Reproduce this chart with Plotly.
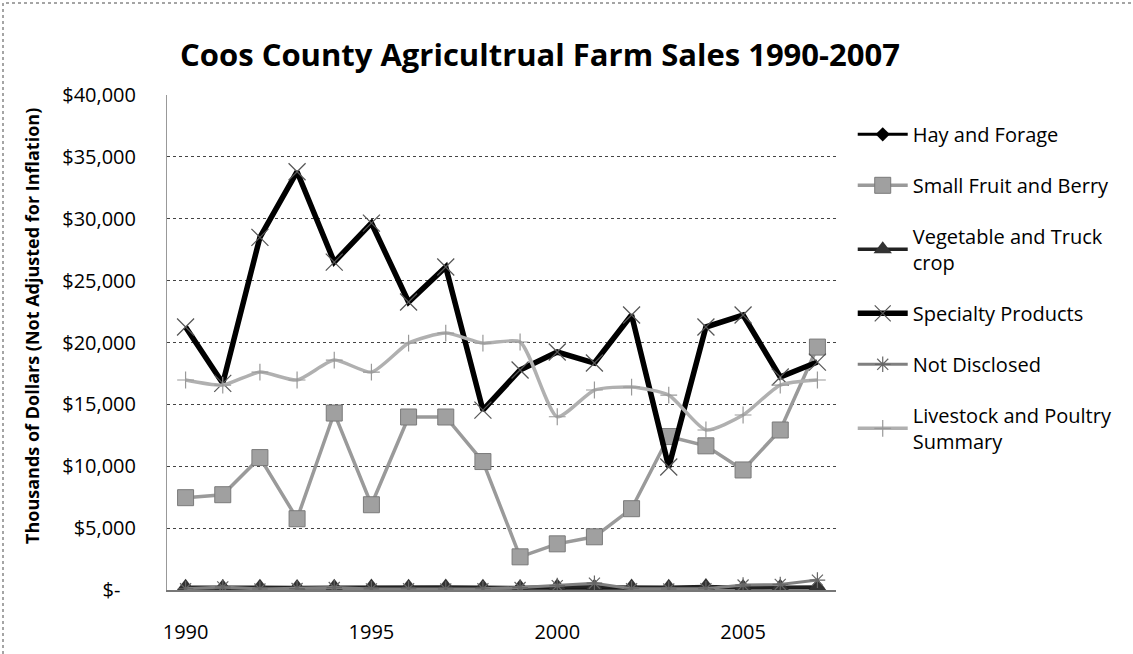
import plotly.graph_objects as go

years = list(range(1990, 2008))

hay_forage = [150, 180, 150, 160, 170, 150, 160, 170, 160, 150, 170, 160, 150, 160, 170, 150, 160, 170]
small_fruit = [7460, 7700, 10700, 5760, 14300, 6890, 13980, 13980, 10380, 2680, 3730, 4300, 6570, 12400, 11650, 9700, 12930, 19630]
vegetable = [220, 200, 230, 210, 220, 240, 230, 250, 220, 200, 260, 230, 240, 220, 280, 200, 220, 240]
specialty = [21250, 16700, 28500, 33800, 26500, 29650, 23270, 26100, 14540, 17780, 19230, 18340, 22220, 9940, 21250, 22220, 17210, 18420]
not_disclosed = [100, 250, 80, 120, 200, 90, 100, 80, 100, 200, 350, 550, 100, 80, 100, 400, 450, 800]
livestock = [16970, 16560, 17610, 16970, 18580, 17610, 19950, 20760, 19950, 20040, 14000, 16160, 16400, 15750, 12930, 14140, 16560, 16970]

y_tickvals = [0, 5000, 10000, 15000, 20000, 25000, 30000, 35000, 40000]
y_ticktext = ["$-\u00a0\u00a0\u00a0", "$5,000", "$10,000", "$15,000", "$20,000", "$25,000", "$30,000", "$35,000", "$40,000"]
x_tickvals = [1990, 1995, 2000, 2005]

FONT = "Open Sans"

fig = go.Figure()

series = [
    ("Hay and Forage", hay_forage, dict(color="#000000", width=3),
     dict(symbol="diamond", size=11, color="#000000")),
    ("Small Fruit and Berry", small_fruit, dict(color="#9a9a9a", width=3.5),
     dict(symbol="square", size=16, color="#a0a0a0", line=dict(color="#7a7a7a", width=1))),
    ("Vegetable and Truck<br>crop", vegetable, dict(color="#222222", width=3.5),
     dict(symbol="triangle-up", size=17, color="#333333")),
    ("Specialty Products", specialty, dict(color="#000000", width=5.5),
     dict(symbol="x-thin-open", size=17, color="#555555", line=dict(color="#555555", width=1.2))),
    ("Not Disclosed", not_disclosed, dict(color="#808080", width=3),
     dict(symbol="asterisk-open", size=13, color="#666666", line=dict(color="#666666", width=1.2))),
    ("Livestock and Poultry<br>Summary", livestock, dict(color="#b0b0b0", width=3.5, shape="spline", smoothing=0.6),
     dict(symbol="cross-thin-open", size=12, color="#999999", line=dict(color="#999999", width=1.2))),
]

for i, (name, vals, line, marker) in enumerate(series):
    fig.add_trace(go.Scatter(
        x=years, y=vals, name=name, mode="lines+markers",
        line=line, marker=marker, legendgroup=f"g{i}",
    ))

fig.update_layout(
    width=1133, height=654,
    margin=dict(l=167, r=297, t=95, b=64),
    paper_bgcolor="white", plot_bgcolor="white",
    font=dict(family=FONT, size=20, color="black"),
    title=dict(text="<b>Coos County Agricultrual Farm Sales 1990-2007</b>",
               font=dict(family=FONT, size=31, color="black"),
               x=540 / 1133, xref="container", xanchor="center",
               y=1 - 55 / 654, yref="container", yanchor="middle"),
    legend=dict(x=1.025, y=0.96, xanchor="left", yanchor="top",
                font=dict(family=FONT, size=20, color="black"),
                itemwidth=50, tracegroupgap=22, traceorder="grouped",
                bgcolor="rgba(0,0,0,0)"),
    showlegend=True,
)

fig.update_xaxes(
    range=[1989.5, 2007.5], tickvals=x_tickvals, ticks="",
    showgrid=False, showline=True, linecolor="#777777", linewidth=1.5,
    zeroline=False, ticklabelstandoff=23, automargin=False,
    tickfont=dict(family=FONT, size=20, color="black"),
)
fig.update_yaxes(
    range=[0, 40000], tickvals=y_tickvals, ticktext=y_ticktext,
    showgrid=True, gridcolor="#444444", griddash="dot", gridwidth=1,
    showline=True, linecolor="#999999", linewidth=1, zeroline=False,
    ticks="", ticklabelstandoff=26, automargin=False,
    tickfont=dict(family=FONT, size=20, color="black"),
)

# y-axis title placed like the source
fig.add_annotation(
    text="<b>Thousands of Dollars (Not Adjusted for Inflation)</b>",
    xref="paper", yref="paper", x=(32 - 167) / 669, y=(590 - 326) / 495,
    xanchor="center", yanchor="middle", textangle=-90, showarrow=False,
    font=dict(family=FONT, size=18, color="black"),
)

# outer chart border (dotted), as in the source image
fig.add_shape(type="rect", xref="paper", yref="paper",
              x0=(3 - 167) / 669, x1=(1145 - 167) / 669,
              y0=(590 - 665) / 495, y1=(590 - 3) / 495,
              line=dict(color="#888888", width=1.5, dash="dot"), layer="below")

fig.write_html("out.html")
